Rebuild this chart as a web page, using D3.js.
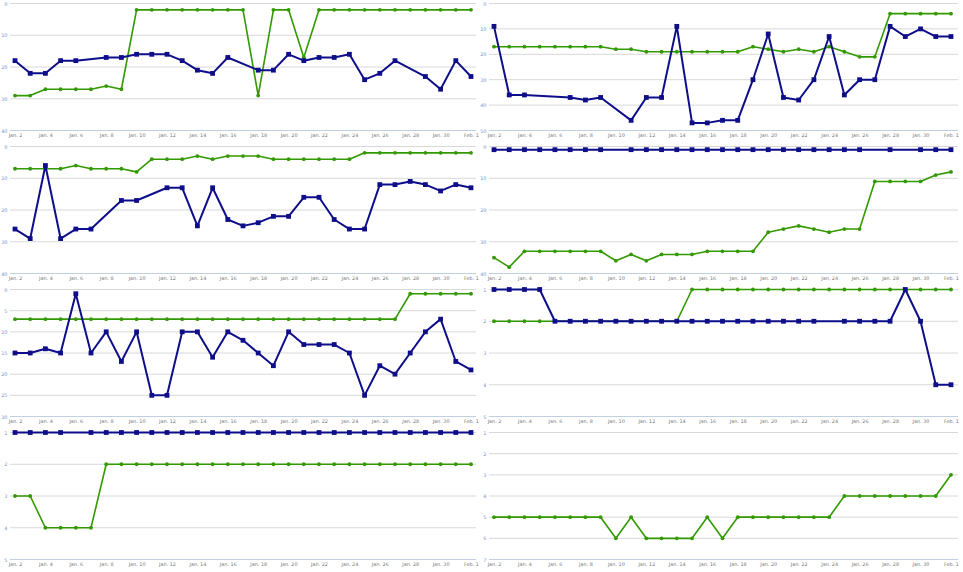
<!DOCTYPE html>
<html>
<head>
<meta charset="utf-8">
<script src="https://cdnjs.cloudflare.com/ajax/libs/d3/7.8.5/d3.min.js"></script>
<style>
	body { margin: 0; background: #fff; }
	svg text { font-family: "DejaVu Sans", Verdana, sans-serif; font-size: 4.9px; }
</style>
</head>
<body>
<div id="chartContainer"></div>
<script>
	//days on the x axis, one point per day
	var dates = ["2014-01-02", "2014-01-03", "2014-01-04", "2014-01-05", "2014-01-06", "2014-01-07", "2014-01-08",
				"2014-01-09", "2014-01-10", "2014-01-11", "2014-01-12", "2014-01-13", "2014-01-14", "2014-01-15",
				"2014-01-16", "2014-01-17", "2014-01-18", "2014-01-19", "2014-01-20", "2014-01-21", "2014-01-22",
				"2014-01-23", "2014-01-24", "2014-01-25", "2014-01-26", "2014-01-27", "2014-01-28", "2014-01-29",
				"2014-01-30", "2014-01-31", "2014-02-01"];

	var xTickLabels = ["Jan. 2", "Jan. 4", "Jan. 6", "Jan. 8", "Jan. 10", "Jan. 12", "Jan. 14", "Jan. 16",
					"Jan. 18", "Jan. 20", "Jan. 22", "Jan. 24", "Jan. 26", "Jan. 28", "Jan. 30", "Feb. 1"];

	//null = no value that day, the line just skips over it
	var blueA = [18, 22, 22, 18, 18, null, 17, 17, 16, 16, 16, 18, 21, 22, 17, null, 21, 21, 16, 18, 17, 17, 16, 24, 22, 18, null, 23, 27, 18, 23];
	var greenA = [29, 29, 27, 27, 27, 27, 26, 27, 2, 2, 2, 2, 2, 2, 2, 2, 29, 2, 2, 17, 2, 2, 2, 2, 2, 2, 2, 2, 2, 2, 2];

	var blueB = [9, 36, 36, null, null, 37, 38, 37, null, 46, 37, 37, 9, 47, 47, 46, 46, 30, 12, 37, 38, 30, 13, 36, 30, 30, 9, 13, 10, 13, 13];
	var greenB = [17, 17, 17, 17, 17, 17, 17, 17, 18, 18, 19, 19, 19, 19, 19, 19, 19, 17, 18, 19, 18, 19, 17, 19, 21, 21, 4, 4, 4, 4, 4];

	var blueC = [26, 29, 6, 29, 26, 26, null, 17, 17, null, 13, 13, 25, 13, 23, 25, 24, 22, 22, 16, 16, 23, 26, 26, 12, 12, 11, 12, 14, 12, 13];
	var greenC = [7, 7, 7, 7, 6, 7, 7, 7, 8, 4, 4, 4, 3, 4, 3, 3, 3, 4, 4, 4, 4, 4, 4, 2, 2, 2, 2, 2, 2, 2, 2];

	var blueD = [1, 1, 1, 1, 1, 1, 1, 1, null, 1, 1, 1, 1, 1, 1, 1, 1, 1, 1, 1, 1, 1, 1, 1, 1, null, 1, null, 1, 1, 1];
	var greenD = [35, 38, 33, 33, 33, 33, 33, 33, 36, 34, 36, 34, 34, 34, 33, 33, 33, 33, 27, 26, 25, 26, 27, 26, 26, 11, 11, 11, 11, 9, 8];

	var blueE = [15, 15, 14, 15, 1, 15, 10, 17, 10, 25, 25, 10, 10, 16, 10, 12, 15, 18, 10, 13, 13, 13, 15, 25, 18, 20, 15, 10, 7, 17, 19];
	var greenE = [7, 7, 7, 7, 7, 7, 7, 7, 7, 7, 7, 7, 7, 7, 7, 7, 7, 7, 7, 7, 7, 7, 7, 7, 7, 7, 1, 1, 1, 1, 1];

	var blueF = [1, 1, 1, 1, 2, 2, 2, 2, 2, 2, 2, 2, 2, 2, 2, 2, 2, 2, 2, 2, 2, 2, null, 2, 2, 2, 2, 1, 2, 4, 4];
	var greenF = [2, 2, 2, 2, 2, 2, 2, 2, 2, 2, 2, 2, 2, 1, 1, 1, 1, 1, 1, 1, 1, 1, 1, 1, 1, 1, 1, 1, 1, 1, 1];

	var blueG = [1, 1, 1, 1, null, 1, 1, 1, 1, 1, 1, 1, 1, 1, 1, 1, 1, 1, 1, 1, 1, 1, 1, 1, 1, 1, 1, 1, 1, 1, 1];
	var greenG = [3, 3, 4, 4, 4, 4, 2, 2, 2, 2, 2, 2, 2, 2, 2, 2, 2, 2, 2, 2, 2, 2, 2, 2, 2, 2, 2, 2, 2, 2, 2];

	var blueH = [];
	var greenH = [5, 5, 5, 5, 5, 5, 5, 5, 6, 5, 6, 6, 6, 6, 5, 6, 5, 5, 5, 5, 5, 5, 5, 4, 4, 4, 4, 4, 4, 4, 3];

	//y tick labels for each small chart
	var ticksA = [0, 10, 20, 30, 40];
	var ticksB = [0, 10, 20, 30, 40, 50];
	var ticksC = [0, 10, 20, 30, 40];
	var ticksD = [0, 10, 20, 30, 40];
	var ticksE = [0, 5, 10, 15, 20, 25, 30];
	var ticksF = [1, 2, 3, 4, 5];
	var ticksG = [1, 2, 3, 4, 5];
	var ticksH = [1, 2, 3, 4, 5, 6, 7];

	//order = left to right, top to bottom
	var charts = [
		{blue: blueA, green: greenA, ticks: ticksA},
		{blue: blueB, green: greenB, ticks: ticksB},
		{blue: blueC, green: greenC, ticks: ticksC},
		{blue: blueD, green: greenD, ticks: ticksD},
		{blue: blueE, green: greenE, ticks: ticksE},
		{blue: blueF, green: greenF, ticks: ticksF},
		{blue: blueG, green: greenG, ticks: ticksG},
		{blue: blueH, green: greenH, ticks: ticksH}
	];

	var blueColor = "#0e0e8a",
		greenColor = "#339900";

	var parseDay = d3.timeParse("%Y-%m-%d");
	var days = dates.map(parseDay);
	var tickDays = days.filter(function (d, i) { return i % 2 == 0; });

	var svg = d3.select("#chartContainer").append("svg")
		.attr("width", 963)
		.attr("height", 572);

	//bounds for the grid of charts
	var rowTop = 3.5,
		rowStep = 143,
		plotHeight = 127,
		cols = [
			{left: 10, right: 476, x0: 15, x1: 471},
			{left: 489, right: 958, x0: 494, x1: 951}
		];

	charts.forEach(function (chart, n) {
		var col = cols[n % 2],
			top = rowTop + Math.floor(n / 2) * rowStep,
			bottom = top + plotHeight;

		var x = d3.scaleTime()
			.domain([days[0], days[days.length - 1]])
			.range([col.x0, col.x1]);

		//reversed axis, smallest value on top
		var y = d3.scaleLinear()
			.domain([chart.ticks[0], chart.ticks[chart.ticks.length - 1]])
			.range([top, bottom]);

		var g = svg.append("g");

		//gridlines, the last one is the x axis line
		g.selectAll(".grid")
			.data(chart.ticks)
			.enter().append("line")
				.attr("x1", col.left)
				.attr("x2", col.right)
				.attr("y1", function (d) { return y(d); })
				.attr("y2", function (d) { return y(d); })
				.style("stroke", function (d, i) { return i == chart.ticks.length - 1 ? "#c0d0e0" : "#d8d8d8"; })
				.style("stroke-width", 1);

		var yAxis = d3.axisLeft(y)
			.tickValues(chart.ticks)
			.tickSize(0)
			.tickPadding(0)
			.tickFormat(d3.format("d"));

		g.append("g")
			.attr("transform", "translate(" + (col.left - 2.6) + ",0)")
			.call(yAxis)
			.call(function (a) { a.select(".domain").remove(); })
			.selectAll("text")
				.style("fill", "#6f96d1")
				.style("font-family", "DejaVu Sans");

		var xAxis = d3.axisBottom(x)
			.tickValues(tickDays)
			.tickSize(0)
			.tickPadding(3)
			.tickFormat(function (d, i) { return xTickLabels[i]; });

		g.append("g")
			.attr("transform", "translate(0," + bottom + ")")
			.call(xAxis)
			.call(function (a) { a.select(".domain").remove(); })
			.selectAll("text")
				.style("fill", "#777")
				.style("font-family", "DejaVu Sans");

		//green first so blue sits on top of it
		drawSeries(g, chart.green, x, y, greenColor, 1.6, "circle");
		drawSeries(g, chart.blue, x, y, blueColor, 2, "square");
	});

	function drawSeries(g, values, x, y, color, width, marker) {
		var pts = [];
		values.forEach(function (v, i) {
			if (v != null) pts.push({day: days[i], v: v});
		});
		if (pts.length == 0) return;

		var line = d3.line()
			.x(function (d) { return x(d.day); })
			.y(function (d) { return y(d.v); });

		g.append("path")
			.datum(pts)
			.attr("d", line)
			.style("fill", "none")
			.style("stroke", color)
			.style("stroke-width", width)
			.style("stroke-linejoin", "round");

		if (marker == "square") {
			g.selectAll(null)
				.data(pts)
				.enter().append("rect")
					.attr("x", function (d) { return x(d.day) - 2.4; })
					.attr("y", function (d) { return y(d.v) - 2.4; })
					.attr("width", 4.8)
					.attr("height", 4.8)
					.style("fill", color);
		} else {
			g.selectAll(null)
				.data(pts)
				.enter().append("circle")
					.attr("cx", function (d) { return x(d.day); })
					.attr("cy", function (d) { return y(d.v); })
					.attr("r", 1.9)
					.style("fill", color);
		}
	}
</script>
</body>
</html>
